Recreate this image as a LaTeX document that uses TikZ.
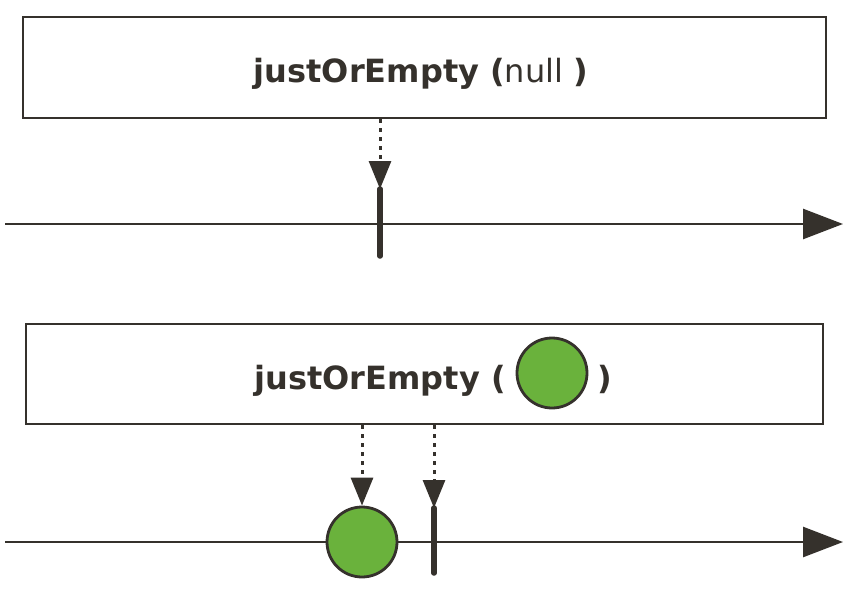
\documentclass[tikz,border=0pt]{standalone}
\usepackage{fontspec}
\setmainfont{DejaVu Sans}
\usetikzlibrary{arrows.meta}
\definecolor{ink}{HTML}{35312C}
\definecolor{marble}{HTML}{6AB23C}
\begin{document}
\begin{tikzpicture}[x=1pt,y=-1pt,
  opbox/.style={draw=ink,line width=2.4pt,fill=white},
  timeline/.style={draw=ink,line width=2.6pt,-{Triangle[length=40pt,width=30pt]}},
  emit/.style={draw=ink,line width=3pt,dash pattern=on 4pt off 5pt,-{Triangle[length=28pt,width=22pt]}},
  endtick/.style={draw=ink,line width=5.5pt,line cap=round},
  ball/.style={circle,draw=ink,line width=2.8pt,fill=marble,minimum size=70pt,inner sep=0pt},
  lbl/.style={text=ink,font=\fontsize{32}{38}\selectfont,inner sep=0pt}]
\useasboundingbox (0,0) rectangle (853,589);
% top diagram
\node[opbox,minimum width=803pt,minimum height=101pt,anchor=north west] (box1) at (22,16) {};
\node[lbl,anchor=base] (t1) at (421,82) {\textbf{justOrEmpty (}null \textbf{)}};
\coordinate (s1) at (5,224);
\coordinate (e1) at (843,224);
\draw[timeline] (s1) -- (e1);
\coordinate (c1top) at (380,189);
\coordinate (c1bot) at (380,256);
\draw[endtick] (c1top) -- (c1bot);
\draw[emit] (box1.south -| c1top) -- (c1top);
% bottom diagram
\node[opbox,minimum width=797pt,minimum height=100pt,anchor=north west] (box2) at (25,323) {};
\node[lbl,anchor=base east] (t2) at (506,389) {\textbf{justOrEmpty (}};
\node[ball] (b0) at (552,373) {};
\node[lbl,anchor=base west] (t3) at (597,389) {\textbf{)}};
\coordinate (s2) at (5,542);
\coordinate (e2) at (843,542);
\draw[timeline] (s2) -- (e2);
\node[ball] (b1) at (362,542) {};
\coordinate (c2top) at (434,508);
\coordinate (c2bot) at (434,573);
\draw[endtick] (c2top) -- (c2bot);
\draw[emit] (box2.south -| b1) -- (b1.north);
\draw[emit] (box2.south -| c2top) -- (c2top);
\end{tikzpicture}
\end{document}
